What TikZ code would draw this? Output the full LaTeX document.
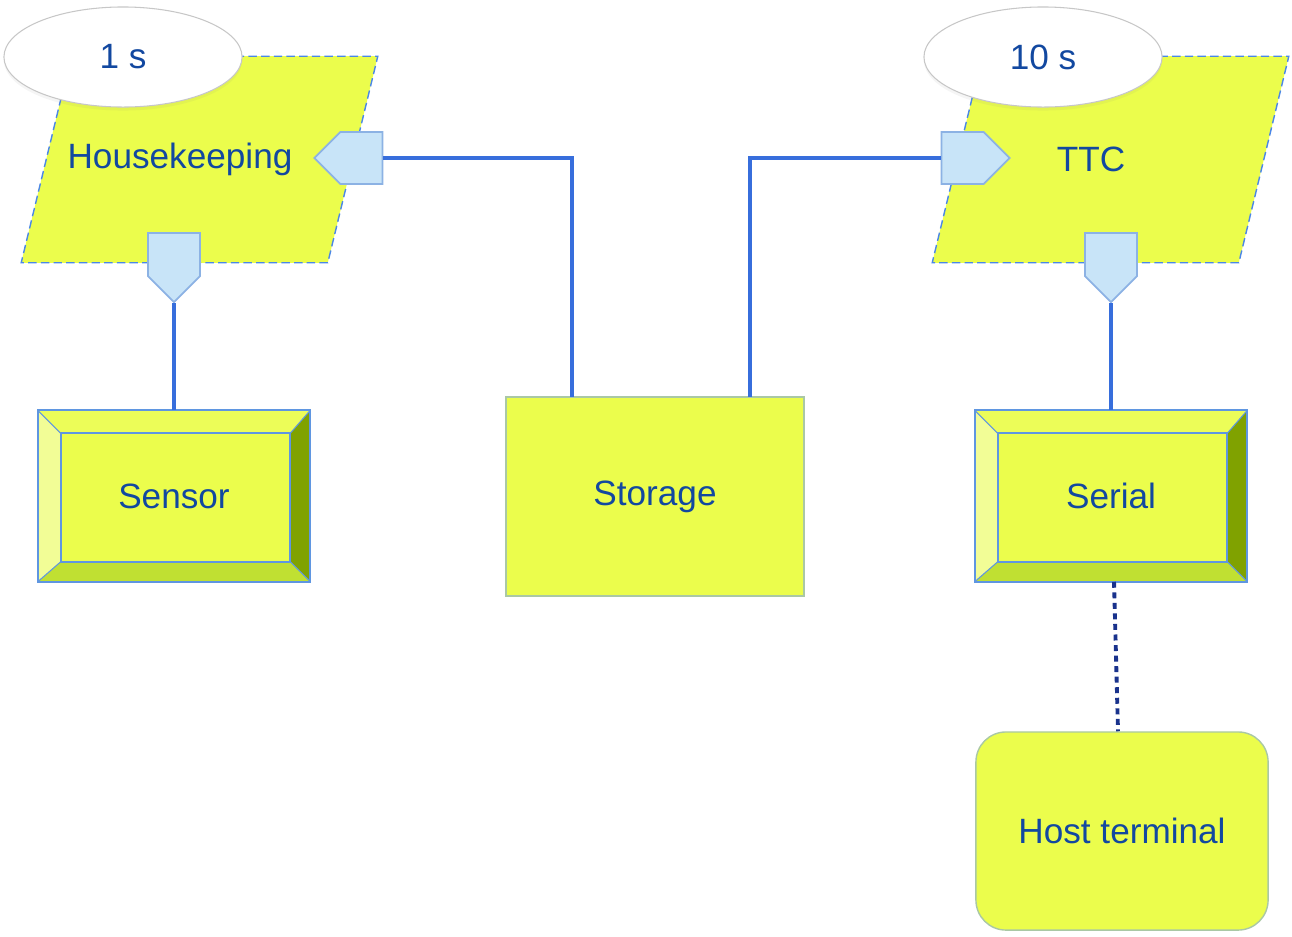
\documentclass[tikz,border=0pt]{standalone}
\usepackage{fontspec}
\setmainfont{Liberation Sans}
\usepackage{tikz}
\usetikzlibrary{positioning,calc,shapes.geometric,shapes.symbols,shadows}

\definecolor{leaf}{RGB}{235,253,76}
\definecolor{ink}{RGB}{18,72,160}
\definecolor{edge}{RGB}{75,135,230}
\definecolor{wire}{RGB}{55,110,220}
\definecolor{navy}{RGB}{25,50,140}
\definecolor{portfill}{RGB}{200,228,248}
\definecolor{portedge}{RGB}{140,178,228}
\definecolor{boxedge}{RGB}{170,200,165}
\definecolor{bevlight}{RGB}{242,253,150}
\definecolor{bevtop}{RGB}{236,253,88}
\definecolor{bevdark}{RGB}{128,162,0}
\definecolor{bevmid}{RGB}{192,224,50}
\definecolor{rim}{RGB}{95,150,225}

\begin{document}
\begin{tikzpicture}[
  x=0.01cm, y=-0.01cm,
  font=\fontsize{10}{12}\selectfont, text=ink,
  task/.style={rectangle, minimum width=3.05cm, minimum height=2.05cm, inner sep=0pt},
  slant/.style={fill=leaf, draw=edge, line width=0.4pt, dash pattern=on 2.4pt off 1.2pt},
  rate/.style={ellipse, minimum width=2.38cm, minimum height=1cm, fill=white, draw=black!22, line width=0.3pt,
    drop shadow={opacity=0.08, shadow xshift=0pt, shadow yshift=-1pt}},
  port/.style={signal, signal pointer angle=90, fill=portfill, draw=portedge, line width=0.5pt, inner sep=0pt},
  dev/.style={rectangle, minimum width=2.71cm, minimum height=1.70cm, fill=leaf},
  box/.style={rectangle, fill=leaf, draw=boxedge, line width=0.4pt},
  link/.style={draw=wire, line width=0.95pt},
  cable/.style={draw=navy, line width=1.1pt, dash pattern=on 1.7pt off 1.3pt}]
\useasboundingbox (0,0) rectangle (1292,936);

% tasks
\node[task] (hk) at (199.5,159.5) {};
\node[task] (ttc) at (1110.5,159.5) {};
\foreach \t in {hk,ttc}
  \draw[slant] ($(\t.north west)+(25,0)$) -- ($(\t.north east)+(25,0)$)
    -- ($(\t.south east)+(-25,0)$) -- ($(\t.south west)+(-25,0)$) -- cycle;
\node (hklbl) at (180,159) {Housekeeping};
\node (ttclbl) at (1091,159) {TTC};
\node[rate] (hkrate) at (123,57) {1 s};
\node[rate] (ttcrate) at (1043,57) {10 s};

% ports
\node[port, signal to=west, minimum width=0.68cm, minimum height=0.52cm] (hkin) at (361.5,158) {};
\node[port, signal to=south, minimum width=0.52cm, minimum height=0.43cm] (hkout) at (174,254.5) {};
\node[port, signal to=east, minimum width=0.68cm, minimum height=0.52cm] (ttcin) at (962.5,158) {};
\node[port, signal to=south, minimum width=0.52cm, minimum height=0.43cm] (ttcout) at (1111,254.5) {};

% devices
\node[dev] (sensor) at (174,496) {Sensor};
\node[dev] (serial) at (1111,496) {Serial};
\node[box, minimum width=2.98cm, minimum height=1.99cm] (store) at (655,496.5) {Storage};
\node[box, rounded corners=0.3cm, minimum width=2.92cm, minimum height=1.98cm] (host) at (1122,831) {Host terminal};

\foreach \b in {sensor,serial} {
  \coordinate (\b-a) at ($(\b.north west)+(23,23)$);
  \coordinate (\b-b) at ($(\b.north east)+(-20,23)$);
  \coordinate (\b-c) at ($(\b.south east)+(-20,-20)$);
  \coordinate (\b-d) at ($(\b.south west)+(23,-20)$);
  \fill[bevlight] (\b.north west) -- (\b-a) -- (\b-d) -- (\b.south west) -- cycle;
  \fill[bevtop] (\b.north west) -- (\b.north east) -- (\b-b) -- (\b-a) -- cycle;
  \fill[bevdark] (\b.north east) -- (\b.south east) -- (\b-c) -- (\b-b) -- cycle;
  \fill[bevmid] (\b.south west) -- (\b-d) -- (\b-c) -- (\b.south east) -- cycle;
  \draw[rim, line width=0.3pt] (\b.north west) -- (\b-a) (\b.north east) -- (\b-b)
    (\b.south east) -- (\b-c) (\b.south west) -- (\b-d);
  \draw[rim, line width=0.5pt] (\b-a) rectangle (\b-c);
  \draw[rim, line width=0.5pt] (\b.north west) rectangle (\b.south east);
}

% connectors
\coordinate (s1) at (572,397);
\coordinate (s2) at (750,397);
\draw[link] (hkin.east) -| (s1);
\draw[link] (ttcin.west) -| (s2);
\draw[link] (hkout.south) -- (sensor.north);
\draw[link] (ttcout.south) -- (serial.north);
\draw[cable] ($(serial.south)+(3,0)$) -- ($(host.north)+(-4,0)$);
\end{tikzpicture}
\end{document}
